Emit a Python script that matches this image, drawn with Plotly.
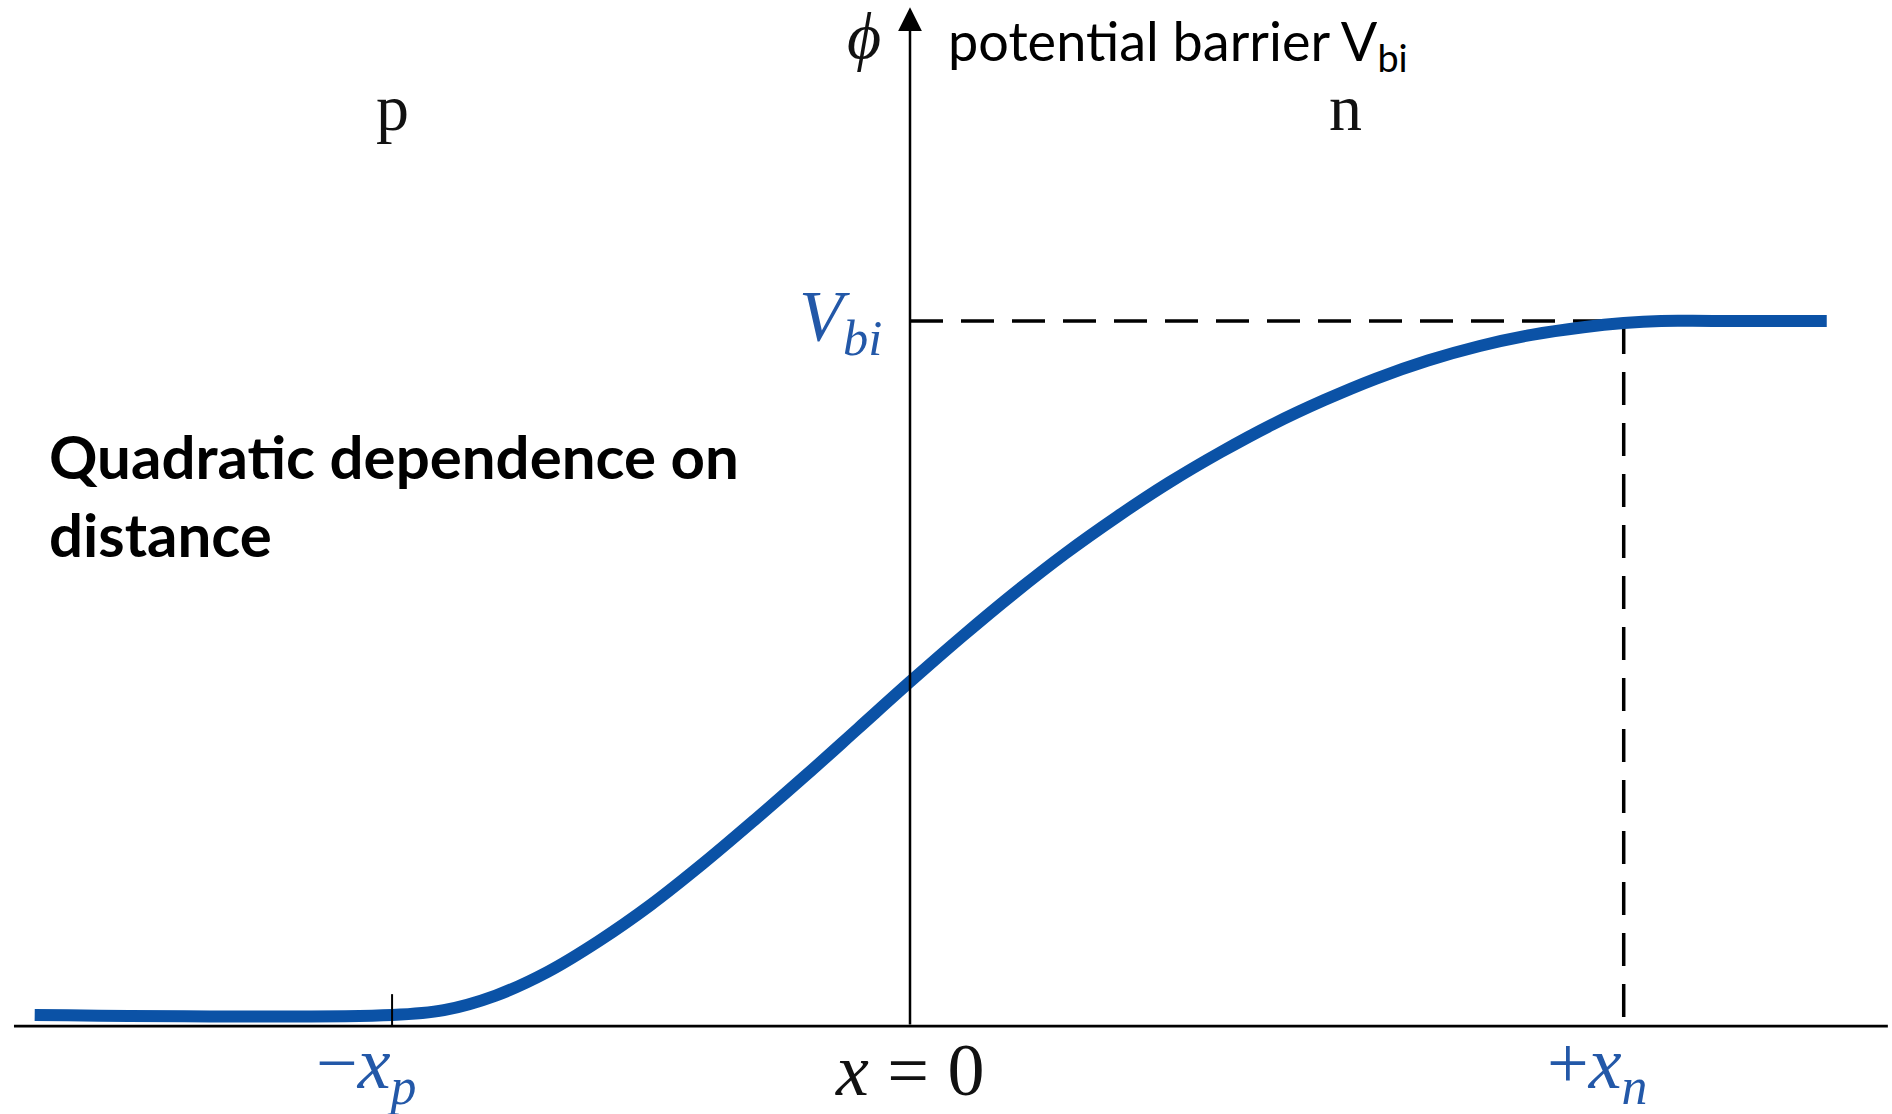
import plotly.graph_objects as go

# ---- data (x in units of x_p, potential in units of V_bi) ----
x_pos = [-1.69, -1.0, -0.9, -0.8, -0.7, -0.6, -0.5, -0.4, -0.3, -0.2, -0.1, 0.0,
         0.1, 0.2, 0.3, 0.4, 0.5, 0.6, 0.7, 0.8, 0.9, 1.0, 1.1, 1.2, 1.3, 1.378,
         1.45, 1.55, 1.77]
phi = [0.0, 0.0, 0.007, 0.028, 0.062, 0.107, 0.159, 0.218, 0.281, 0.346, 0.413, 0.480,
       0.545, 0.607, 0.665, 0.718, 0.767, 0.811, 0.851, 0.886, 0.917, 0.943, 0.964,
       0.980, 0.991, 0.997, 1.0, 1.0, 1.0]
XP = -1.0     # -x_p
XN = 1.378    # +x_n
VBI = 1.0
AXIS_Y = -0.016
Y_TOP = 1.452
X_RANGE = [-1.757, 1.896]
Y_RANGE = [-0.1427, 1.4625]

BLUE = "#0B52A6"
TXT_BLUE = "#2358A8"
SERIF = "Liberation Serif"
SANS = "Lato"

fig = go.Figure()

# x axis line
fig.add_shape(type="line", xref="x", yref="y", x0=-1.73, x1=1.888, y0=AXIS_Y, y1=AXIS_Y,
              line=dict(color="black", width=2.8))
# tick at -x_p
fig.add_shape(type="line", xref="x", yref="y", x0=XP, x1=XP, y0=AXIS_Y, y1=0.03,
              line=dict(color="black", width=2))
# dashed guides
fig.add_trace(go.Scatter(x=[0, XN], y=[VBI, VBI], mode="lines",
                         line=dict(color="black", width=3.5, dash="33px,18px"), hoverinfo="skip"))
fig.add_trace(go.Scatter(x=[XN, XN], y=[VBI, AXIS_Y], mode="lines",
                         line=dict(color="black", width=3.5, dash="33px,18px"), hoverinfo="skip"))
# potential curve
fig.add_trace(go.Scatter(x=x_pos, y=phi, mode="lines",
                         line=dict(color=BLUE, width=12, shape="spline", smoothing=1.0),
                         hoverinfo="skip"))

# y axis with arrow
fig.add_annotation(x=0, y=Y_TOP, ax=0, ay=AXIS_Y, xref="x", yref="y", axref="x", ayref="y",
                   text="", showarrow=True, arrowhead=2, arrowsize=1.9, arrowwidth=2.5,
                   arrowcolor="black", standoff=0, startstandoff=0)

anns = [
    dict(x=0, y=Y_TOP, xref="x", yref="y", text="<i>ϕ</i>", xanchor="center", yanchor="middle",
         xshift=-46, yshift=-28, font=dict(family=SERIF, size=66, color="#111111")),
    dict(x=0, y=Y_TOP, xref="x", yref="y", text="potential barrier V<sub>bi</sub>", xanchor="left",
         yanchor="middle", xshift=36, yshift=-37, font=dict(family=SANS, size=54, color="black")),
    dict(x=XP, y=Y_TOP, xref="x", yref="y", text="p", xanchor="center", yanchor="middle",
         yshift=-100, font=dict(family=SERIF, size=66, color="#111111")),
    dict(x=0.84, y=Y_TOP, xref="x", yref="y", text="n", xanchor="center", yanchor="middle",
         yshift=-100, font=dict(family=SERIF, size=66, color="#111111")),
    dict(x=0, y=VBI, xref="x", yref="y", text="<i>V<sub>bi</sub></i>", xanchor="right",
         yanchor="middle", xshift=-26, font=dict(family=SERIF, size=72, color=TXT_BLUE)),
    dict(x=XP, y=AXIS_Y, xref="x", yref="y", text="−<i>x<sub>p</sub></i>", xanchor="center",
         yanchor="middle", xshift=-26, yshift=-42, font=dict(family=SERIF, size=74, color=TXT_BLUE)),
    dict(x=0, y=AXIS_Y, xref="x", yref="y", text="<i>x</i> = 0", xanchor="center",
         yanchor="middle", yshift=-44, font=dict(family=SERIF, size=74, color="#111111")),
    dict(x=XN, y=AXIS_Y, xref="x", yref="y", text="+<i>x<sub>n</sub></i>", xanchor="center",
         yanchor="middle", xshift=-26, yshift=-42, font=dict(family=SERIF, size=74, color=TXT_BLUE)),
    dict(x=0.025, y=0.625, xref="paper", yref="paper", text="<b>Quadratic dependence on<br>distance</b>",
         xanchor="left", yanchor="top", align="left", font=dict(family=SANS, size=60, color="black")),
]
for a in anns:
    fig.add_annotation(showarrow=False, **a)

fig.update_layout(
    width=1892, height=1114, margin=dict(l=0, r=0, t=0, b=0),
    paper_bgcolor="white", plot_bgcolor="white", showlegend=False,
    xaxis=dict(range=X_RANGE, visible=False, fixedrange=True),
    yaxis=dict(range=Y_RANGE, visible=False, fixedrange=True),
)

fig.write_html("out.html", config={"displayModeBar": False},
               post_script="document.body.style.margin='0';document.body.style.overflow='hidden';")
